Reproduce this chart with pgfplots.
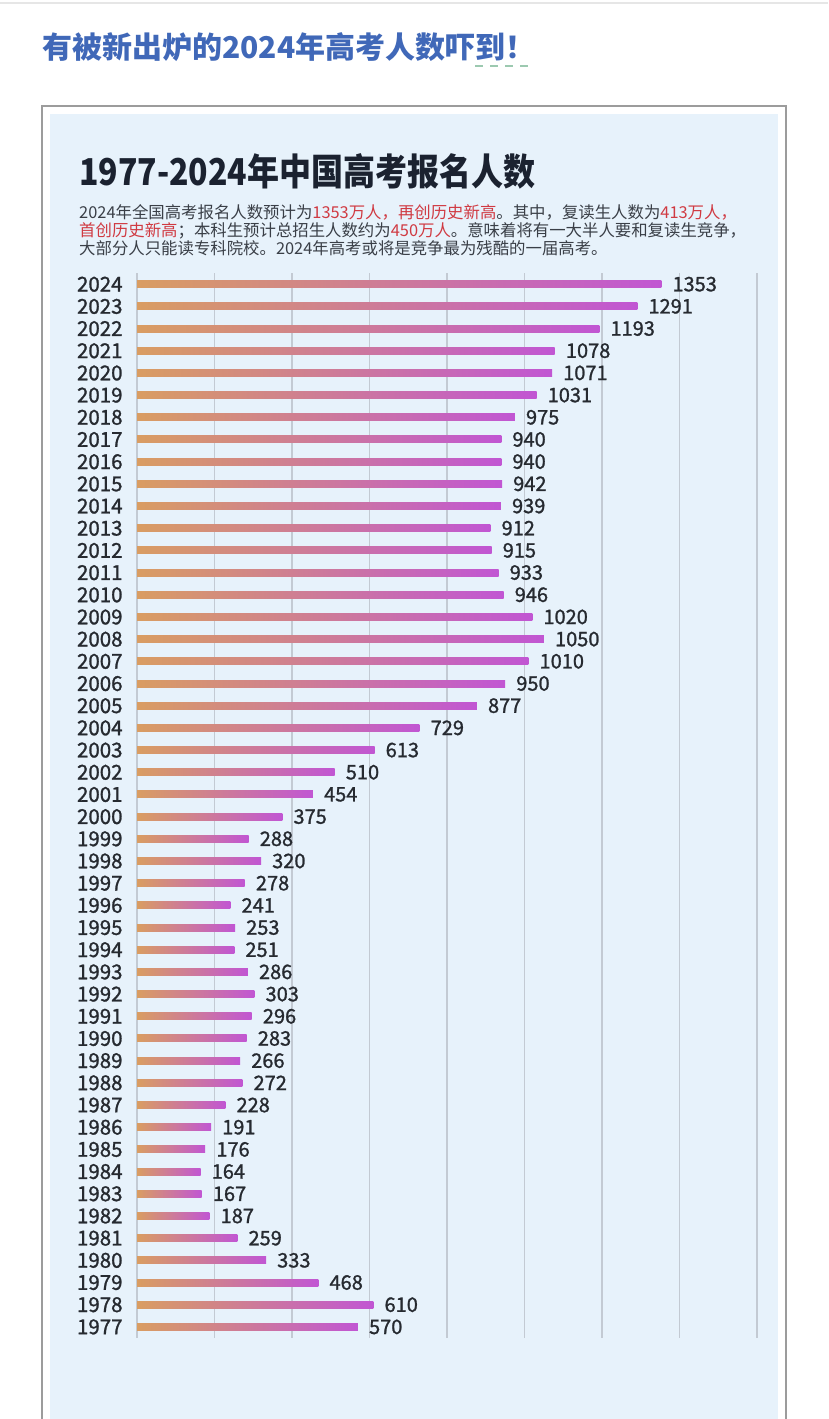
\documentclass[border=0pt]{standalone}
\usepackage{pgfplots}
\pgfplotsset{compat=1.18}
\usepackage{fontspec}
\setmainfont{Noto Sans CJK SC}
\newfontfamily\labfont[FakeBold=1.2]{Noto Sans CJK SC}

\definecolor{headblue}{HTML}{4068B8}
\definecolor{ulgreen}{HTML}{9CC9B0}
\definecolor{framegrey}{HTML}{9C9C9C}
\definecolor{topline}{HTML}{E6E6E6}
\definecolor{bgblue}{HTML}{E7F2FB}
\definecolor{titlecol}{HTML}{1B2230}
\definecolor{subcol}{HTML}{3A3F47}
\definecolor{subred}{HTML}{D03A42}
\definecolor{gridcol}{HTML}{C3CAD3}
\definecolor{barO}{HTML}{D99D62}
\definecolor{barM}{HTML}{CB91A6}
\definecolor{barP}{HTML}{C156D3}
\definecolor{labcol}{HTML}{262A30}

% one bar per year: \yb{year}{value}
\newcommand{\yb}[2]{\addplot[forget plot, bar shift=0pt, draw=none, left color=barO, middle color=barM, right color=barP] coordinates {(#2,#1)};}

\begin{document}
\begin{tikzpicture}
\path[use as bounding box, fill=white] (0pt,0pt) rectangle (828pt,1419pt);
\draw[color=topline, line width=1.5pt] (0pt,1416pt) -- (828pt,1416pt);
% heading
\node[anchor=base west, inner sep=0pt, text=headblue,
      font=\fontsize{30}{32}\selectfont\bfseries] at (42pt,1360pt)
      {有被新出炉的2024年高考人数吓到！};
\draw[color=ulgreen, line width=2.2pt, dash pattern=on 8pt off 7pt] (475pt,1353pt) -- (531pt,1353pt);
% frame
\fill[bgblue] (50pt,0pt) rectangle (778pt,1305pt);
\draw[color=framegrey, line width=2.5pt] (42pt,0pt) |- (786pt,1313pt) -- (786pt,0pt);
% title
\node[anchor=base west, inner sep=0pt, text=titlecol,
      font=\fontsize{37}{40}\selectfont\bfseries] at (79pt,1233pt)
      {\scalebox{0.865}[1]{1977-2024年中国高考报名人数}};
\node[anchor=base west, inner sep=0pt, text=subcol,
      font=\fontsize{16.4}{18}\selectfont] at (79pt,1200pt)
      {2024年全国高考报名人数预计为\textcolor{subred}{1353万人，再创历史新高}。其中，复读生人数为\textcolor{subred}{413万人，}};
\node[anchor=base west, inner sep=0pt, text=subcol,
      font=\fontsize{16.4}{18}\selectfont] at (79pt,1182pt)
      {\textcolor{subred}{首创历史新高}；本科生预计总招生人数约为\textcolor{subred}{450万人}。意味着将有一大半人要和复读生竞争，};
\node[anchor=base west, inner sep=0pt, text=subcol,
      font=\fontsize{16.4}{18}\selectfont] at (79pt,1164pt)
      {大部分人只能读专科院校。2024年高考或将是竞争最为残酷的一届高考。};
% chart
\begin{axis}[
  at={(137pt,81pt)}, anchor=south west,
  scale only axis, width=620pt, height=1065pt,
  xmin=0, xmax=1600, ymin=1976.5, ymax=2024.5,
  xtick={0,200,...,1600}, xticklabels={},
  ytick={1977,...,2024},
  yticklabel={\pgfmathprintnumber[fixed,precision=0,1000 sep={},assume math mode=true]{\tick}},
  yticklabel style={font=\labfont\fontsize{20.5}{21}\selectfont, text=labcol, inner sep=0pt, xshift=-10pt},
  xmajorgrids, grid style={color=gridcol, line width=1.3pt},
  axis line style={draw=none}, tick style={draw=none},
  xbar, bar width=7pt,
  point meta=x,
  nodes near coords={\pgfmathprintnumber[fixed,precision=0,1000 sep={},assume math mode=true]{\pgfplotspointmeta}},
  nodes near coords style={font=\labfont\fontsize{20}{21}\selectfont, text=labcol, inner sep=0pt, anchor=west, xshift=11pt},
]
\yb{2024}{1353}
\yb{2023}{1291}
\yb{2022}{1193}
\yb{2021}{1078}
\yb{2020}{1071}
\yb{2019}{1031}
\yb{2018}{975}
\yb{2017}{940}
\yb{2016}{940}
\yb{2015}{942}
\yb{2014}{939}
\yb{2013}{912}
\yb{2012}{915}
\yb{2011}{933}
\yb{2010}{946}
\yb{2009}{1020}
\yb{2008}{1050}
\yb{2007}{1010}
\yb{2006}{950}
\yb{2005}{877}
\yb{2004}{729}
\yb{2003}{613}
\yb{2002}{510}
\yb{2001}{454}
\yb{2000}{375}
\yb{1999}{288}
\yb{1998}{320}
\yb{1997}{278}
\yb{1996}{241}
\yb{1995}{253}
\yb{1994}{251}
\yb{1993}{286}
\yb{1992}{303}
\yb{1991}{296}
\yb{1990}{283}
\yb{1989}{266}
\yb{1988}{272}
\yb{1987}{228}
\yb{1986}{191}
\yb{1985}{176}
\yb{1984}{164}
\yb{1983}{167}
\yb{1982}{187}
\yb{1981}{259}
\yb{1980}{333}
\yb{1979}{468}
\yb{1978}{610}
\yb{1977}{570}
\end{axis}
\end{tikzpicture}
\end{document}
